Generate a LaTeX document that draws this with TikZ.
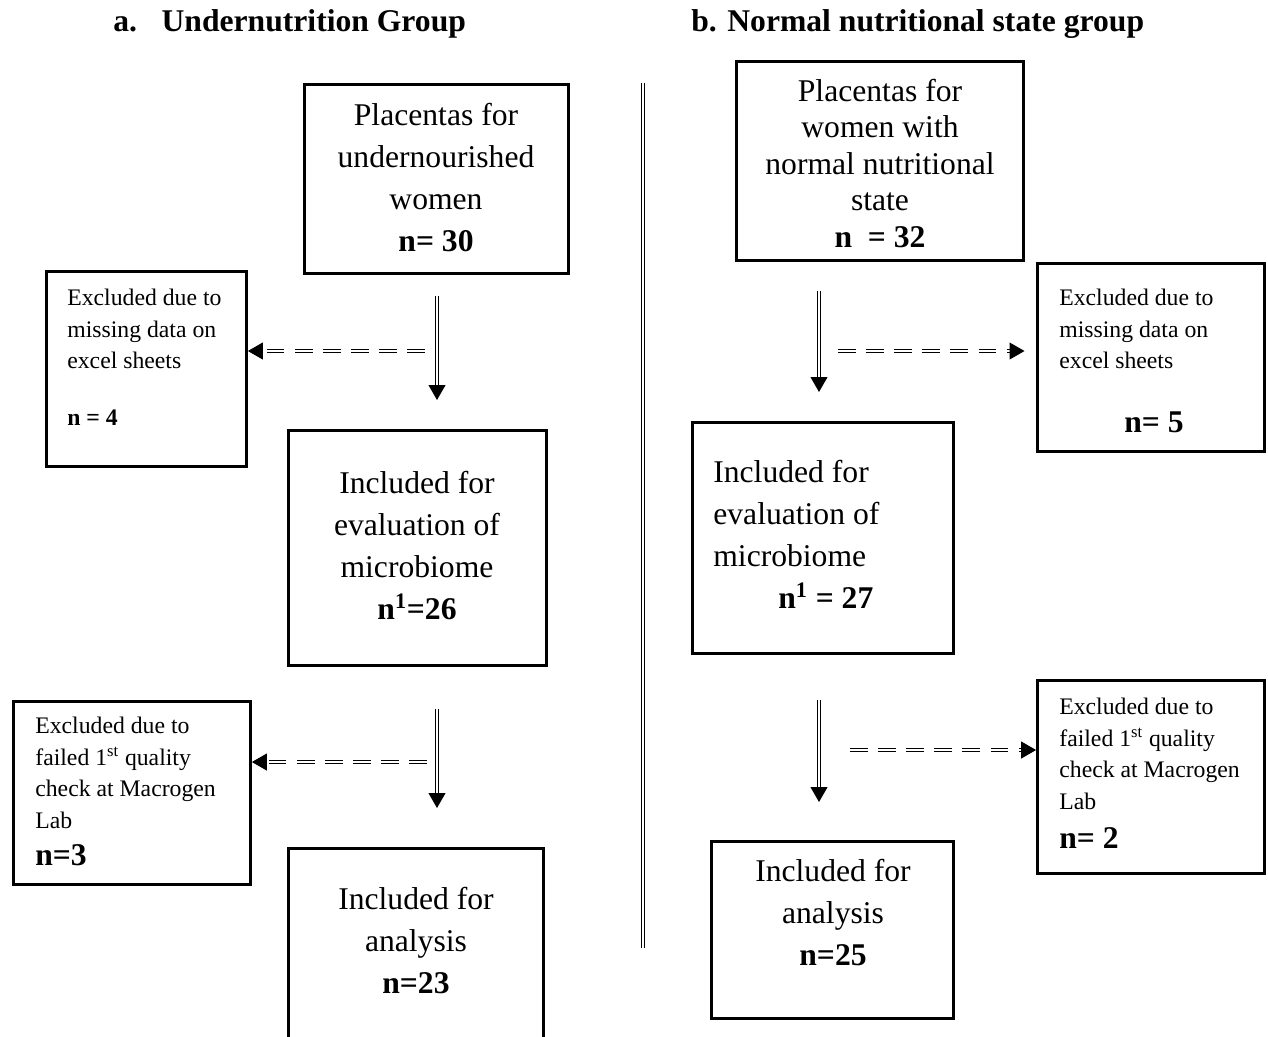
\documentclass[tikz,border=0pt]{standalone}
\usepackage{fontspec}
\setmainfont{Liberation Serif}
\usetikzlibrary{arrows.meta}

\newcommand{\bigtxt}{\fontsize{18}{23.8}\selectfont}
\newcommand{\smalltxt}{\fontsize{13.5}{17.9}\selectfont}

\begin{document}
\begin{tikzpicture}[x=0.02cm, y=-0.02cm,
    boxframe/.style={draw, line width=1.6pt, inner sep=0pt},
    bigtext/.style={font=\bigtxt, inner sep=0pt, align=center, anchor=north},
    smalltext/.style={font=\smalltxt, inner sep=0pt, align=left, anchor=north west},
    ncount/.style={inner sep=0pt, anchor=base west},
    downarrow/.style={double, double distance=1.2pt, line width=0.6pt, -{Triangle[length=8.5pt, width=9.6pt]}},
    sidearrow/.style={downarrow, dash pattern=on 10pt off 6pt}]
    \fill [white] (0,0) rectangle (1268,1036);
    \useasboundingbox (0,0) rectangle (1268,1036);

    % titles
    \node[ncount, font=\bigtxt\bfseries] (ha) at (113,31) {a.\hspace{14pt}Undernutrition Group};
    \node[ncount, font=\bigtxt\bfseries] (hb) at (691,31) {b. Normal nutritional state group};

    % separator
    \draw [double, double distance=1.3pt, line width=0.5pt] (643,83)--(643,948);

    % a. undernutrition
    \node[boxframe, minimum width=5.28cm, minimum height=3.78cm] (a1) at (436.5,179) {};
    \node[bigtext] (a1t) at (436,103) {Placentas for\\undernourished\\women\\\textbf{n= 30}};
    \node[boxframe, minimum width=4.0cm, minimum height=3.9cm] (ae1) at (146.5,369) {};
    \node[smalltext] (ae1t) at (67,289) {Excluded due to\\missing data on\\excel sheets};
    \node[ncount, font=\smalltxt\bfseries] (ae1n) at (67,425) {n = 4};
    \node[boxframe, minimum width=5.16cm, minimum height=4.7cm] (a2) at (417.5,548) {};
    \node[bigtext] (a2t) at (417,471) {Included for\\evaluation of\\microbiome\\\textbf{n\textsuperscript{1}=26}};
    \node[boxframe, minimum width=4.74cm, minimum height=3.66cm] (ae2) at (132,793) {};
    \node[smalltext] (ae2t) at (35,717) {Excluded due to\\failed 1\textsuperscript{st} quality\\check at Macrogen\\Lab};
    \node[ncount, font=\bigtxt\bfseries] (ae2n) at (35,865) {n=3};
    \node[boxframe, minimum width=5.1cm, minimum height=3.9cm] (a3) at (416,946) {};
    \node[bigtext] (a3t) at (416,887) {Included for\\analysis\\\textbf{n=23}};

    \coordinate (a1s) at (437,296);
    \coordinate (a1e) at (437,400);
    \coordinate (a1d) at (425,351);
    \draw [downarrow] (a1s)--(a1e);
    \draw [sidearrow] (a1d)--(a1d -| ae1.east);
    \coordinate (a2s) at (437,709);
    \coordinate (a2e) at (437,808);
    \coordinate (a2d) at (427,762);
    \draw [downarrow] (a2s)--(a2e);
    \draw [sidearrow] (a2d)--(a2d -| ae2.east);

    % b. normal nutritional state
    \node[boxframe, minimum width=5.74cm, minimum height=3.98cm] (b1) at (880,161) {};
    \node[bigtext, font=\fontsize{18}{20.7}\selectfont] (b1t) at (880,79) {Placentas for\\women with\\normal nutritional\\state\\\textbf{n\ \ = 32}};
    \node[boxframe, minimum width=4.54cm, minimum height=3.76cm] (be1) at (1151,357.5) {};
    \node[smalltext] (be1t) at (1059,289) {Excluded due to\\missing data on\\excel sheets};
    \node[ncount, font=\bigtxt\bfseries] (be1n) at (1124,432) {n= 5};
    \node[boxframe, minimum width=5.22cm, minimum height=4.62cm] (b2) at (823,538) {};
    \node[bigtext, align=left, anchor=north west] (b2t) at (713,460) {Included for\\evaluation of\\microbiome\\\hspace{37pt}\textbf{n\textsuperscript{1} = 27}};
    \node[boxframe, minimum width=4.54cm, minimum height=3.86cm] (be2) at (1151,777) {};
    \node[smalltext] (be2t) at (1059,698) {Excluded due to\\failed 1\textsuperscript{st} quality\\check at Macrogen\\Lab};
    \node[ncount, font=\bigtxt\bfseries] (be2n) at (1059,848) {n= 2};
    \node[boxframe, minimum width=4.84cm, minimum height=3.54cm] (b3) at (832.5,930) {};
    \node[bigtext] (b3t) at (833,859) {Included for\\analysis\\\textbf{n=25}};

    \coordinate (b1s) at (819,291);
    \coordinate (b1e) at (819,392);
    \coordinate (b1d) at (838,351);
    \draw [downarrow] (b1s)--(b1e);
    \draw [sidearrow, shorten >=11\pgflinewidth] (b1d)--(b1d -| be1.west);
    \coordinate (b2s) at (819,700);
    \coordinate (b2e) at (819,802);
    \coordinate (b2d) at (850,750);
    \draw [downarrow] (b2s)--(b2e);
    \draw [sidearrow] (b2d)--(b2d -| be2.west);
\end{tikzpicture}
\end{document}
